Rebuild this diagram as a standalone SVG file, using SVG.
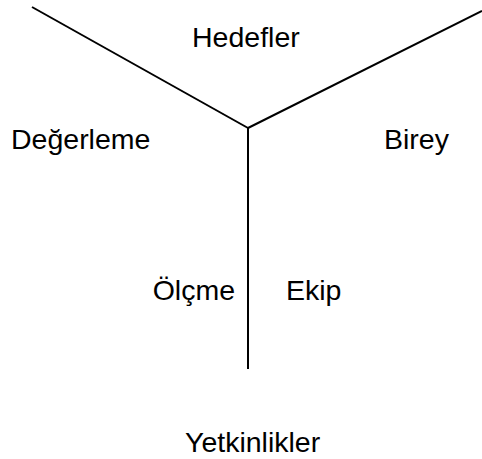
<svg xmlns="http://www.w3.org/2000/svg" width="482" height="459" viewBox="0 0 482 459">
  <style>
    .lbl { font-family: "Liberation Sans", Arial, sans-serif; font-size: 28.5px; fill: #000; }
    .ln { stroke: #000; stroke-width: 2; fill: none; }
  </style>
  <rect width="482" height="459" fill="#fff"/>
  <!-- three branches meeting at the hub (248,128) -->
  <g id="connectors">
    <line class="ln" x1="32" y1="7" x2="248" y2="128"/>
    <line class="ln" x1="248" y1="128" x2="482" y2="11"/>
    <line class="ln" x1="248" y1="128" x2="248" y2="369"/>
  </g>
  <g id="hedefler"><text class="lbl" x="192" y="47">Hedefler</text></g>
  <g id="degerleme"><text class="lbl" x="11" y="149">Değerleme</text></g>
  <g id="birey"><text class="lbl" x="384" y="149">Birey</text></g>
  <g id="olcme"><text class="lbl" x="235" y="300" text-anchor="end">Ölçme</text></g>
  <g id="ekip"><text class="lbl" x="286" y="300">Ekip</text></g>
  <g id="yetkinlikler"><text class="lbl" x="185" y="452">Yetkinlikler</text></g>
</svg>
